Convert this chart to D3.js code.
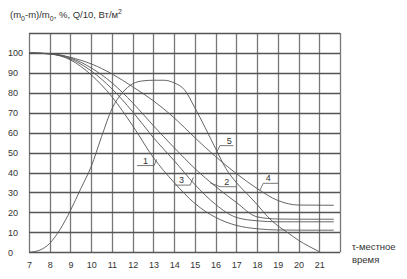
<!DOCTYPE html>
<html><head><meta charset="utf-8">
<script src="https://cdn.jsdelivr.net/npm/d3@7"></script>
<style>
body{margin:0;background:#fff}
text{font-family:"Liberation Sans",Arial,sans-serif;fill:#333}
</style></head><body>
<svg id="c" width="407" height="279"></svg>
<script>
const xTicks = [7,8,9,10,11,12,13,14,15,16,17,18,19,20,21];
const yTicks = [0,10,20,30,40,50,60,70,80,90,100];
// curve 1
const c1x = [7,8,9,10,11,12,13,14,15,16,17,18,19,20,21.7];
const c1y = [100,99.5,96.5,89,78,63.5,47.5,35,24.5,17.5,13.5,11.8,11.2,11.1,11.1];
// curve 2
const c2x = [7,8,9,10,11,12,13,14,15,16,17,18,19,20,21.7];
const c2y = [100,99.6,97.5,92.5,85,75,63.5,52.5,42,33,25,17.8,16.7,16.6,16.6];
// curve 3
const c3x = [7,8,9,10,11,12,13,14,15,16,17,18,19,20,21.7];
const c3y = [100,99.5,97,91,82,70.5,57.5,46,34,24,17.5,15.8,15.3,15.3,15.3];
// curve 4
const c4x = [7,8,9,10,11,12,13,14,15,16,17,18,19,20,21.7];
const c4y = [100,99.7,97.8,94.5,89.5,83,76,67.5,57.5,48,39.5,32,26,23.7,23.6];
// curve 5 : Q/10
const c5x = [7,7.5,8,8.5,9,9.5,10,10.5,11,11.5,12,12.5,13,13.5,14,14.5,15,15.5,16,16.5,17,17.5,18,18.5,19,19.5,20,20.5,21];
const c5y = [0,1,4.5,11.5,21,32,43,58,72,80,84.5,86,86.3,86.3,85,81.5,72.5,62.5,52,42,35,29.5,24,18,13.3,9.7,6,3,0.3];
const curveNames = ["1","2","3","4","5"];
// label annotations: [curve point x,y], [knee x,y], underline end x, text centre x
const labX = [12.62,16.54,14.36,18.54,16.66];
const labPtX = [13.16,15.73,14.93,18.14,16.08];
const labPtY = [46.6,34.9,37.6,31.2,50.8];
const labKneeX = [13.03,16.21,14.77,18.30,16.21];
const labKneeY = [43.5,32.9,33.7,34.6,53.5];
const labEndX = [12.21,16.98,14.04,19.02,16.86];

const svg = d3.select("#c");
const x = d3.scaleLinear().domain([7,22]).range([29,340]);
const y = d3.scaleLinear().domain([0,110]).range([252.3,33]);

// grid
const g = svg.append("g");
g.selectAll("line.v").data(d3.range(7,23)).enter().append("line")
  .attr("x1",d=>Math.round(x(d))+0.5).attr("x2",d=>Math.round(x(d))+0.5)
  .attr("y1",y(110)).attr("y2",y(0))
  .attr("stroke","#777").attr("stroke-width",1.3);
g.selectAll("line.h").data(d3.range(0,111,10)).enter().append("line")
  .attr("y1",d=>Math.round(y(d))+0.5).attr("y2",d=>Math.round(y(d))+0.5)
  .attr("x1",x(7)).attr("x2",x(22))
  .attr("stroke","#555").attr("stroke-width",1.3);

// axes
const xa = svg.append("g").attr("transform",`translate(0,${y(0)})`)
  .call(d3.axisBottom(x).tickValues(xTicks).tickSize(0).tickPadding(9).tickFormat(d3.format("d")));
xa.select(".domain").remove();
xa.selectAll("text").style("font-size","9px").attr("fill","#333");
const ya = svg.append("g").attr("transform",`translate(${x(7)},0)`)
  .call(d3.axisLeft(y).tickValues(yTicks).tickSize(0).tickFormat(d3.format("d")));
ya.select(".domain").remove();
ya.selectAll("text").style("font-size","9px").attr("fill","#333")
  .attr("text-anchor","start").attr("x",-21);

// curves
const line = d3.line().x(d=>x(d[0])).y(d=>y(d[1])).curve(d3.curveMonotoneX);
const series = [[c1x,c1y],[c2x,c2y],[c3x,c3y],[c4x,c4y],[c5x,c5y]];
svg.append("g").selectAll("path").data(series).enter().append("path")
  .attr("d",s=>line(s[0].map((v,i)=>[v,s[1][i]])))
  .attr("fill","none").attr("stroke","#555").attr("stroke-width",0.9);

// labels
const lab = svg.append("g");
curveNames.forEach((n,i)=>{
  lab.append("polyline")
    .attr("points",[[x(labPtX[i]),y(labPtY[i])],[x(labKneeX[i]),y(labKneeY[i])],[x(labEndX[i]),y(labKneeY[i])]].map(p=>p.join(",")).join(" "))
    .attr("fill","none").attr("stroke","#555").attr("stroke-width",0.8);
  lab.append("text").attr("x",x(labX[i])).attr("y",y(labKneeY[i])-2)
    .attr("text-anchor","middle").style("font-size","9px").text(n);
});

// title
const t = svg.append("text").attr("x",10).attr("y",18).style("font-size","9.5px");
t.append("tspan").text("(m");
t.append("tspan").attr("baseline-shift","-3").style("font-size","7px").text("0");
t.append("tspan").text("-m)/m");
t.append("tspan").attr("baseline-shift","-3").style("font-size","7px").text("0");
t.append("tspan").text(", %, Q/10, Вт/м");
t.append("tspan").attr("baseline-shift","4").style("font-size","7px").text("2");

// x label
svg.append("text").attr("x",352).attr("y",250).style("font-size","9.5px").text("τ-местное");
svg.append("text").attr("x",352).attr("y",263).style("font-size","9.5px").text("время");
</script>
</body></html>
